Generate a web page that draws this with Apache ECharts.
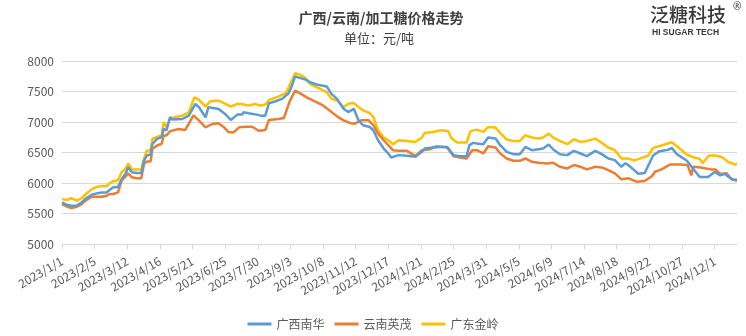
<!DOCTYPE html>
<html><head><meta charset="utf-8">
<script src="https://cdn.jsdelivr.net/npm/echarts@6/dist/echarts.min.js"></script>
<style>html,body{margin:0;padding:0;background:#fff}#c{width:746px;height:336px}</style>
</head><body><div id="c"></div>
<script>
// Start date and number of daily categories
var startDate = [2023, 1, 1];
var dayCount = 725;
var yTicks = [5000, 5500, 6000, 6500, 7000, 7500, 8000];
var seriesNames = ['广西南华', '云南英茂', '广东金岭'];

// 广西南华 (day offset from 2023/1/1, price)
var nanhuaDays = [0,5,10,16,21,26,32,37,43,48,51,55,60,64,68,71,75,80,85,88,91,95,97,102,107,109,112,116,118,129,136,143,147,154,157,168,175,181,188,193,195,200,209,213,218,222,229,236,243,246,250,255,262,266,273,284,289,295,302,307,313,318,323,330,334,339,345,350,353,361,370,379,386,389,398,406,413,420,427,434,437,441,445,452,457,465,470,477,484,491,497,504,511,516,522,527,534,542,549,556,563,572,579,586,593,600,604,607,614,618,625,634,641,650,654,659,670,677,684,693,700,706,711,715,720,724];
var nanhuaValues = [5681,5643,5626,5630,5681,5753,5808,5830,5846,5846,5885,5929,5929,6066,6148,6258,6176,6165,6165,6368,6451,6467,6643,6725,6753,6890,6863,7080,7040,7049,7104,7296,7242,7077,7242,7214,7132,7033,7121,7121,7159,7143,7121,7104,7104,7307,7340,7379,7472,7571,7745,7723,7690,7652,7614,7582,7462,7380,7217,7163,7217,7027,6946,6918,6864,6701,6565,6484,6418,6457,6446,6429,6511,6565,6582,6592,6592,6457,6440,6440,6620,6658,6647,6636,6745,6728,6620,6511,6473,6473,6592,6538,6554,6565,6630,6549,6473,6457,6527,6484,6440,6527,6473,6402,6375,6266,6321,6300,6207,6152,6163,6451,6522,6543,6576,6478,6370,6234,6098,6098,6180,6125,6152,6098,6054,6054];

// 云南英茂
var yingmaoDays = [0,5,10,16,21,26,32,37,43,48,51,55,60,64,68,71,75,80,85,88,91,95,97,102,107,109,112,116,118,125,132,141,147,154,161,168,173,179,184,190,197,204,211,218,222,232,238,241,244,250,255,262,269,280,287,295,302,309,314,321,329,334,339,345,350,355,361,370,379,386,395,402,413,420,427,434,440,445,452,457,465,470,477,484,491,497,504,511,520,527,534,542,549,556,563,572,579,586,593,600,608,616,625,633,636,643,652,663,671,675,677,685,696,701,706,713,718,724];
var yingmaoValues = [5654,5615,5588,5610,5654,5720,5775,5775,5775,5791,5819,5819,5846,6038,6104,6159,6093,6077,6077,6313,6352,6352,6560,6615,6643,6780,6780,6850,6857,6885,6868,7110,7022,6912,6967,6978,6923,6830,6830,6912,6923,6923,6857,6868,7033,7049,7066,7200,7330,7516,7473,7408,7353,7272,7190,7092,7027,6984,6973,7027,7027,6946,6810,6701,6620,6538,6527,6527,6440,6538,6554,6603,6582,6440,6418,6402,6538,6538,6484,6603,6582,6484,6402,6364,6364,6402,6348,6331,6321,6331,6266,6239,6294,6266,6223,6266,6255,6212,6158,6060,6076,6022,6033,6114,6185,6223,6304,6304,6294,6125,6266,6255,6223,6223,6147,6158,6060,6038];

// 广东金岭
var jinlingDays = [0,5,10,16,21,26,32,37,43,48,51,55,60,64,68,71,75,80,85,88,91,95,97,102,107,109,112,116,118,129,136,142,147,154,159,168,177,181,188,193,200,207,213,218,222,232,240,244,250,255,261,266,273,284,289,295,302,307,313,318,323,330,334,339,345,350,355,361,370,379,386,389,398,406,414,418,424,434,438,445,452,457,465,470,477,484,491,497,504,511,516,522,527,534,542,549,556,563,572,579,586,593,600,607,614,622,629,634,643,654,661,670,679,684,687,694,701,708,715,722,724];
var jinlingValues = [5740,5722,5750,5712,5750,5825,5900,5935,5950,5950,5995,6030,6045,6180,6231,6320,6225,6220,6220,6400,6533,6533,6725,6757,6785,7000,6915,7060,7066,7104,7159,7406,7362,7252,7340,7351,7285,7252,7296,7296,7269,7296,7269,7285,7362,7417,7472,7598,7799,7777,7723,7625,7571,7489,7380,7353,7245,7299,7310,7245,7190,7147,7082,6864,6745,6701,6636,6701,6690,6674,6745,6821,6837,6864,6853,6728,6663,6663,6850,6875,6837,6918,6908,6821,6712,6690,6690,6783,6745,6728,6745,6810,6745,6690,6636,6717,6674,6690,6728,6658,6582,6538,6402,6400,6370,6413,6451,6576,6614,6668,6587,6467,6413,6397,6326,6451,6451,6424,6342,6304,6310];

var colors = ['#5b9bd5', '#ed7d31', '#ffc000'];

var categories = [];
(function(){
  var base = Date.UTC(startDate[0], startDate[1]-1, startDate[2]);
  for (var i = 0; i < dayCount; i++) {
    var d = new Date(base + i*86400000);
    categories.push(d.getUTCFullYear() + '/' + (d.getUTCMonth()+1) + '/' + d.getUTCDate());
  }
})();
function pairs(days, vals){ return days.map(function(d,i){ return [d, vals[i]]; }); }

var chart = echarts.init(document.getElementById('c'), null, {renderer:'canvas'});
var font = '"Noto Sans CJK SC", "Noto Sans", sans-serif';
function mk(name, days, vals, c, z){
  return {name:name, type:'line', data:pairs(days, vals), showSymbol:false, symbol:'none',
    lineStyle:{width:2.5, color:c}, itemStyle:{color:c}, z:z, animation:false};
}
chart.setOption({
  animation:false,
  textStyle:{fontFamily:font},
  title:[
    {text:'广西/云南/加工糖价格走势', left:376, top:6, textAlign:'center',
      textStyle:{fontSize:14, fontWeight:'bold', color:'#404040', fontFamily:font}},
    {text:'单位：元/吨', left:374, top:27, textAlign:'center',
      textStyle:{fontSize:13, fontWeight:'normal', color:'#404040', fontFamily:font}}
  ],
  graphic:[
    {type:'text', left:650, top:5, style:{text:'泛糖科技', font:'500 19px "Noto Sans CJK SC"', fill:'#3a3a3a'}},
    {type:'text', left:733, top:2, style:{text:'®', font:'10px "Noto Sans"', fill:'#3a3a3a'}},
    {type:'text', left:652, top:28, style:{text:'HI SUGAR TECH', font:'bold 8.5px "Liberation Sans", Arial', fill:'#3a3a3a'}}
  ],
  legend:{bottom:1, left:'center', itemWidth:24, itemHeight:3, icon:'rect', itemGap:10,
    textStyle:{fontSize:12, color:'#595959', fontFamily:font},
    data:seriesNames},
  grid:{left:62, right:9, top:61, bottom:92, containLabel:false},
  xAxis:{type:'category', data:categories, boundaryGap:false,
    axisLine:{lineStyle:{color:'#d9d9d9', width:1}},
    axisTick:{show:true, interval:34, length:5, lineStyle:{color:'#d9d9d9'}},
    axisLabel:{interval:34, rotate:30, fontSize:12, color:'#595959', margin:16, fontFamily:font},
    splitLine:{show:false}},
  yAxis:{type:'value', min:yTicks[0], max:yTicks[yTicks.length-1], interval:500,
    axisLine:{show:false}, axisTick:{show:false},
    axisLabel:{fontSize:12, color:'#595959', margin:8, fontFamily:font, formatter:function(v){return String(v);}},
    splitLine:{lineStyle:{color:'#d9d9d9', width:1}}},
  series:[
    mk(seriesNames[0], nanhuaDays, nanhuaValues, colors[0], 3),
    mk(seriesNames[1], yingmaoDays, yingmaoValues, colors[1], 2),
    mk(seriesNames[2], jinlingDays, jinlingValues, colors[2], 1)
  ]
});
</script></body></html>
